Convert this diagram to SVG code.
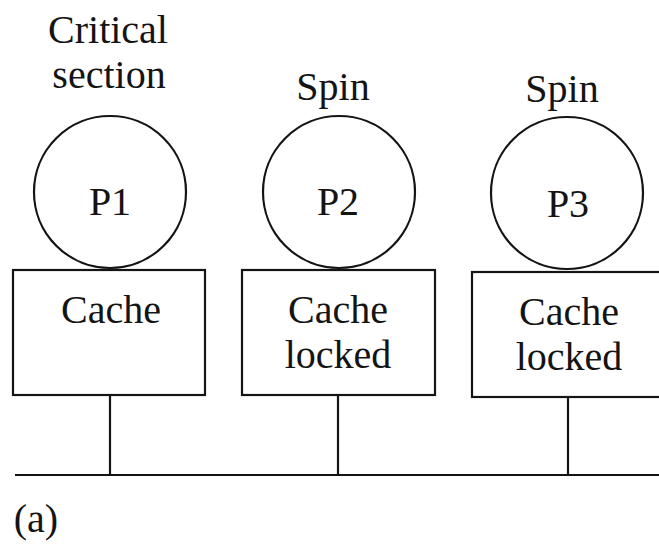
<svg xmlns="http://www.w3.org/2000/svg" width="659" height="546" viewBox="0 0 659 546">
  <style>
    .shape { fill: none; stroke: #141414; stroke-width: 2.2; }
    .wire { fill: none; stroke: #141414; stroke-width: 2.2; }
  </style>
  <rect width="659" height="546" fill="#ffffff"/>

  <!-- bus and drops from each cache -->
  <g id="connectors">
    <line class="wire" x1="15" y1="475" x2="659" y2="475"/>
    <line class="wire" x1="110" y1="395" x2="110" y2="475"/>
    <line class="wire" x1="338" y1="395" x2="338" y2="475"/>
    <line class="wire" x1="568" y1="397" x2="568" y2="475"/>
  </g>

  <g font-family="Liberation Serif, Times New Roman, Times, serif" font-size="40" fill="#141414" text-anchor="middle">
    <g id="p1">
      <text x="108" y="43">Critical</text>
      <text x="109" y="88">section</text>
      <circle class="shape" cx="110" cy="192" r="76"/>
      <text x="110" y="215">P1</text>
    </g>
    <g id="cache1">
      <rect class="shape" x="13" y="270" width="192" height="125"/>
      <text x="111" y="323">Cache</text>
    </g>

    <g id="p2">
      <text x="333" y="100">Spin</text>
      <circle class="shape" cx="339" cy="192" r="76"/>
      <text x="338" y="215">P2</text>
    </g>
    <g id="cache2">
      <rect class="shape" x="242" y="270" width="193" height="125"/>
      <text x="338" y="323">Cache</text>
      <text x="338" y="368">locked</text>
    </g>

    <g id="p3">
      <text x="562" y="102">Spin</text>
      <circle class="shape" cx="567" cy="193" r="76"/>
      <text x="568" y="217">P3</text>
    </g>
    <g id="cache3">
      <rect class="shape" x="472" y="272" width="200" height="125"/>
      <text x="569" y="325">Cache</text>
      <text x="569" y="370">locked</text>
    </g>

    <text x="36" y="532">(a)</text>
  </g>
</svg>
